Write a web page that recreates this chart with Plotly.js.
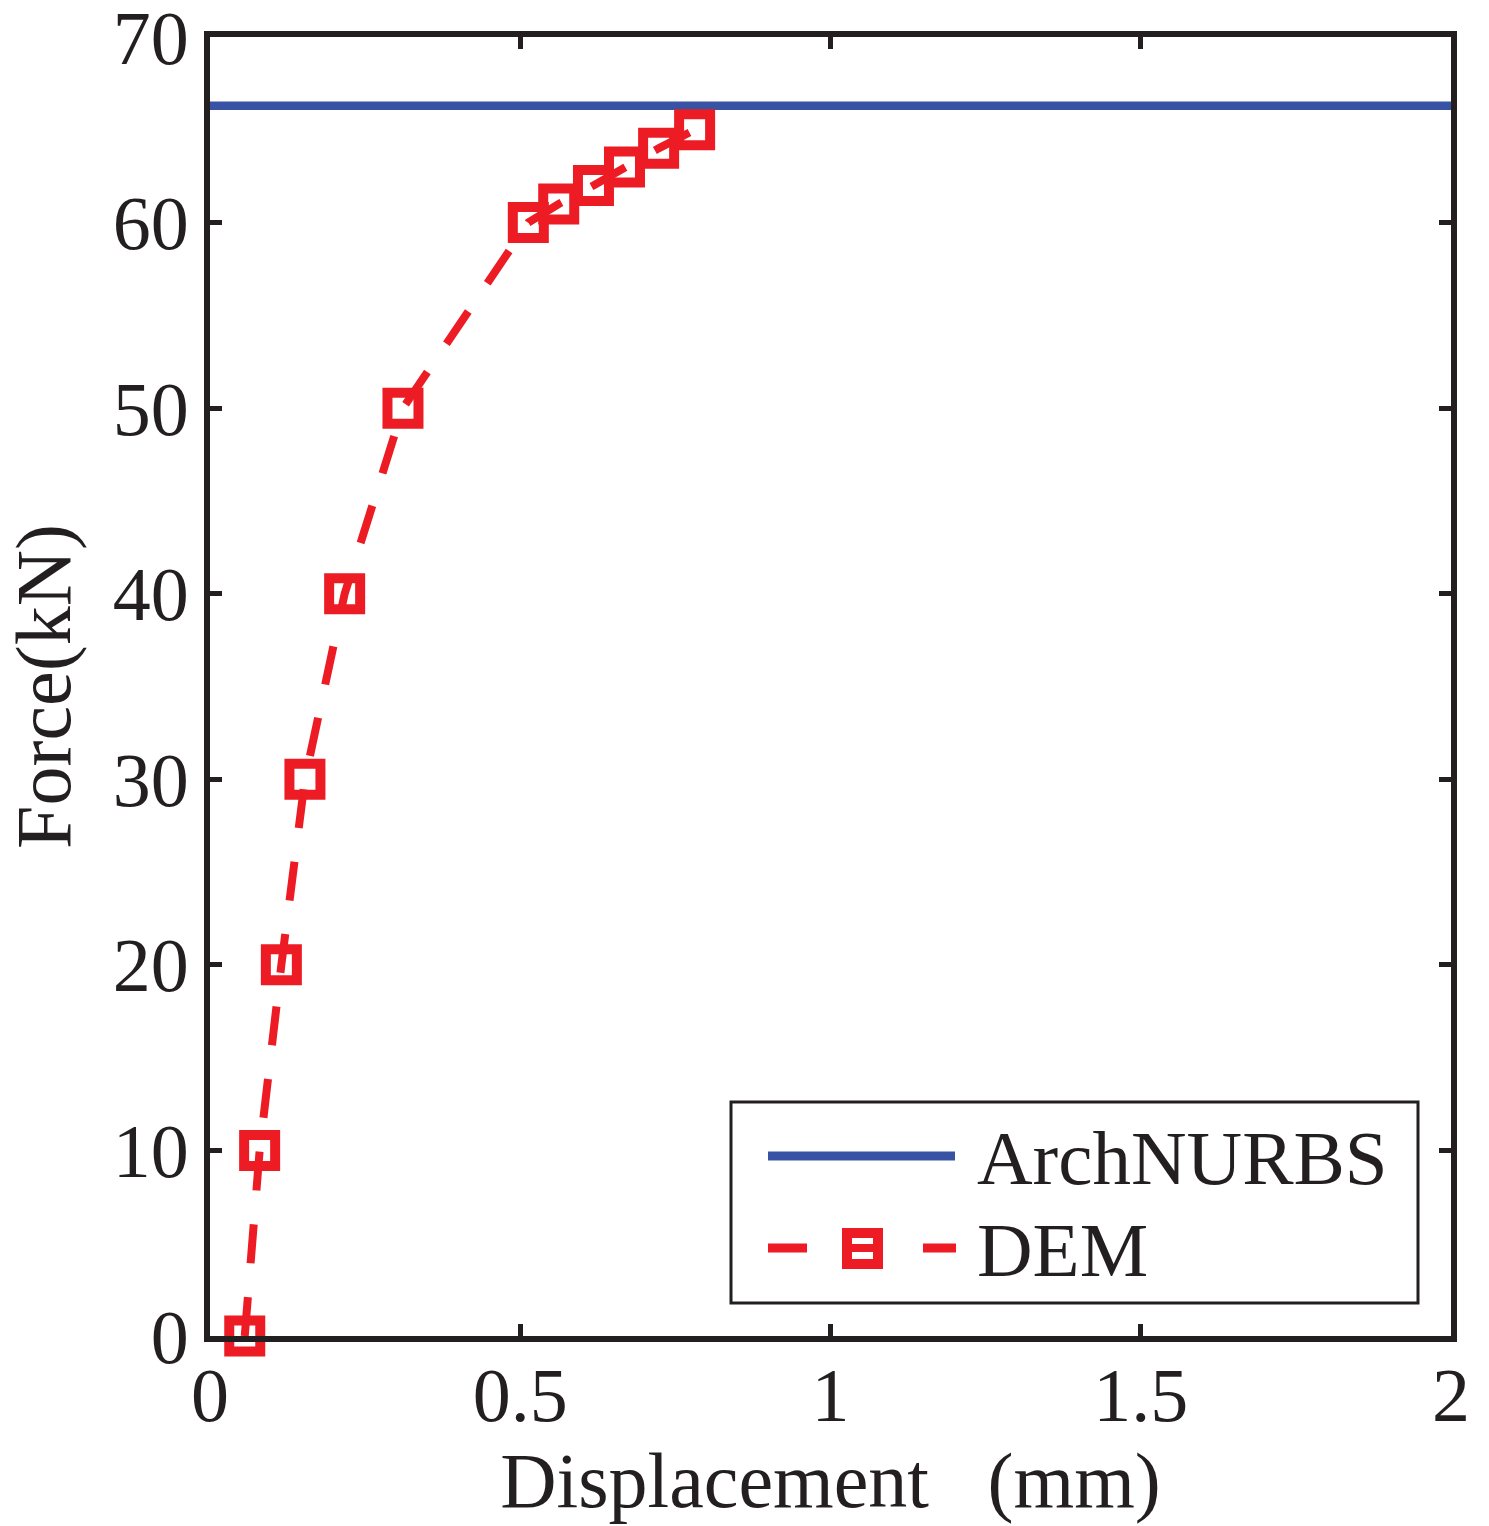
<!DOCTYPE html>
<html>
<head>
<meta charset="utf-8">
<script src="https://cdn.plot.ly/plotly-3.0.1.min.js"></script>
<style>html,body{margin:0;padding:0;background:#fff;}#chart{width:1489px;height:1526px;}</style>
</head>
<body>
<div id="chart"></div>
<script>
// ---- data ----
const demDisplacement = [0.056, 0.080, 0.115, 0.153, 0.217, 0.311, 0.513, 0.562, 0.618, 0.668, 0.723, 0.781];
const demForce        = [0, 10, 20, 30, 40, 50, 60, 61, 62, 63, 64, 65];
const archDisplacement = [0, 2];
const archForce        = [66.3, 66.3];
const xTickVals = [0, 0.5, 1, 1.5, 2];
const xTickText = ["0", "0.5", "1", "1.5", "2"];
const yTickVals = [0, 10, 20, 30, 40, 50, 60, 70];
const seriesNames = ["ArchNURBS", "DEM"];

// ---- styling ----
const FONT = "Liberation Serif, Times New Roman, serif";
const INK = "#231f20";
const BLUE = "#3953a4";
const RED = "#ed1c24";
const W = 1489, H = 1526;
const M = {l: 210, r: 38, t: 37, b: 190};
const PW = W - M.l - M.r, PH = H - M.t - M.b;
const px = v => (v - M.l) / PW;
const py = v => (H - M.b - v) / PH;

const traces = [
  {x: archDisplacement, y: archForce, name: seriesNames[0], mode: "lines",
   line: {color: BLUE, width: 8.5}, cliponaxis: false},
  {x: demDisplacement, y: demForce, name: seriesNames[1], mode: "lines+markers",
   line: {color: RED, width: 8, dash: "39px,34px"},
   marker: {symbol: "square-open", size: 31, color: RED, line: {color: RED, width: 10}},
   cliponaxis: false}
];

const axisCommon = {
  showline: true, linewidth: 6, linecolor: INK, mirror: "ticks",
  ticks: "inside", ticklen: 12, tickwidth: 5, tickcolor: INK,
  showgrid: false, zeroline: false, ticklabeloverflow: "allow",
  tickfont: {family: FONT, size: 76, color: INK}
};

// custom legend (box, samples, labels)
const shapes = [
  {type: "rect", xref: "paper", yref: "paper", x0: px(731), x1: px(1418), y0: py(1303), y1: py(1102),
   line: {color: INK, width: 3}, fillcolor: "#fff", layer: "above"},
  {type: "line", xref: "paper", yref: "paper", x0: px(768), x1: px(955), y0: py(1156), y1: py(1156),
   line: {color: BLUE, width: 9}, layer: "above"},
  {type: "line", xref: "paper", yref: "paper", x0: px(768), x1: px(807), y0: py(1248), y1: py(1248),
   line: {color: RED, width: 9}, layer: "above"},
  {type: "line", xref: "paper", yref: "paper", x0: px(846), x1: px(879), y0: py(1248), y1: py(1248),
   line: {color: RED, width: 8}, layer: "above"},
  {type: "line", xref: "paper", yref: "paper", x0: px(923), x1: px(956), y0: py(1248), y1: py(1248),
   line: {color: RED, width: 9}, layer: "above"},
  {type: "rect", xref: "paper", yref: "paper", x0: px(847), x1: px(878), y0: py(1264), y1: py(1233),
   line: {color: RED, width: 10}, fillcolor: "rgba(0,0,0,0)", layer: "above"}
];
const annotations = [
  {xref: "paper", yref: "paper", x: px(975), y: py(1158), text: seriesNames[0], showarrow: false,
   xanchor: "left", yanchor: "middle", font: {family: FONT, size: 77, color: INK}},
  {xref: "paper", yref: "paper", x: px(975), y: py(1250), text: seriesNames[1], showarrow: false,
   xanchor: "left", yanchor: "middle", font: {family: FONT, size: 77, color: INK}}
];

const layout = {
  width: W, height: H,
  margin: M,
  paper_bgcolor: "#fff", plot_bgcolor: "#fff",
  showlegend: false,
  font: {family: FONT, color: INK},
  xaxis: Object.assign({}, axisCommon, {
    range: [0, 2], tickvals: xTickVals, ticktext: xTickText, ticklabelstandoff: -12,
    title: {text: "Displacement\u00a0\u00a0\u00a0(mm)", font: {family: FONT, size: 78, color: INK}, standoff: 0}
  }),
  yaxis: Object.assign({}, axisCommon, {
    range: [0, 70], tickvals: yTickVals,
    title: {text: "Force(kN)", font: {family: FONT, size: 78, color: INK}, standoff: 22}
  }),
  shapes: shapes,
  annotations: annotations
};

Plotly.newPlot("chart", traces, layout, {displayModeBar: false, staticPlot: true});
</script>
</body>
</html>
